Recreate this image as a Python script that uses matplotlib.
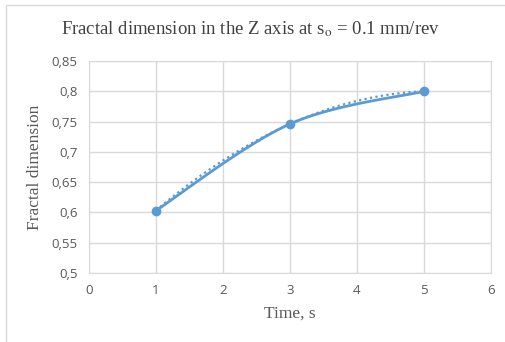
import matplotlib
matplotlib.use('Agg')
import matplotlib.pyplot as plt
import numpy as np

# data
time_s = [1, 3, 5]
fractal_dim = [0.603, 0.746, 0.800]
x_ticks = [0, 1, 2, 3, 4, 5, 6]
y_ticks = [0.5, 0.55, 0.6, 0.65, 0.7, 0.75, 0.8, 0.85]

blue = '#5B9BD5'
grid_c = '#D9D9D9'
tick_c = '#595959'

plt.rcParams['mathtext.fontset'] = 'stix'


def smooth_curve(xs, ys, n=40):
    # excel-like smoothed line (catmull-rom bezier)
    pts = np.column_stack([xs, ys]).astype(float)
    padded = np.vstack([pts[0], pts, pts[-1]])
    out = []
    for i in range(1, len(padded) - 2):
        p0, p1, p2, p3 = padded[i - 1], padded[i], padded[i + 1], padded[i + 2]
        c1 = p1 + (p2 - p0) / 6.0
        c2 = p2 - (p3 - p1) / 6.0
        t = np.linspace(0, 1, n)[:, None]
        seg = ((1 - t) ** 3) * p1 + 3 * ((1 - t) ** 2) * t * c1 + 3 * (1 - t) * t ** 2 * c2 + t ** 3 * p2
        out.append(seg)
    out = np.vstack(out)
    return out[:, 0], out[:, 1]


fig = plt.figure(figsize=(5.05, 3.42), dpi=100)
ax = fig.add_axes([0.176, 0.2018, 0.796, 0.6198])

# chart border like excel
fig.patches.append(plt.Rectangle((6 / 505, -0.1), 1.2, 1.1 - 5 / 342, transform=fig.transFigure,
                                 fill=False, edgecolor='#D9D9D9', linewidth=1.0))

# polynomial trend line (dotted)
coef = np.polyfit(time_s, fractal_dim, 2)
xt = np.linspace(time_s[0], time_s[-1], 100)
ax.plot(xt, np.polyval(coef, xt), color=blue, linestyle=(0, (1, 1.5)), linewidth=1.6, zorder=3)

sx, sy = smooth_curve(time_s, fractal_dim)
ax.plot(sx, sy, color=blue, linewidth=2.0, zorder=4)
ax.plot(time_s, fractal_dim, 'o', color=blue, markersize=6, zorder=5)

ax.set_xlim(0, 6)
ax.set_ylim(0.5, 0.85)
ax.set_xticks(x_ticks)
ax.set_yticks(y_ticks)
ax.set_yticklabels([('%g' % v).replace('.', ',') for v in y_ticks])
ax.grid(True, color=grid_c, linewidth=1.0)
ax.set_axisbelow(True)
for s in ax.spines.values():
    s.set_color(grid_c)
ax.tick_params(length=0, colors=tick_c, labelsize=9.5, pad=8)
for lab in ax.get_xticklabels() + ax.get_yticklabels():
    lab.set_family('Open Sans')

ax.set_xlabel('Time, s', family='Liberation Serif', fontsize=12.5, color=tick_c, labelpad=6)
ax.set_ylabel('Fractal dimension', family='Liberation Serif', fontsize=12.5, color=tick_c, labelpad=6)
fig.text(0.497, 0.915, 'Fractal dimension in the Z axis at s$_{\\mathrm{o}}$ = 0.1 mm/rev',
         ha='center', va='center', family='Liberation Serif', fontsize=13.5, color='#404040')

fig.savefig('out.png', dpi=100)
